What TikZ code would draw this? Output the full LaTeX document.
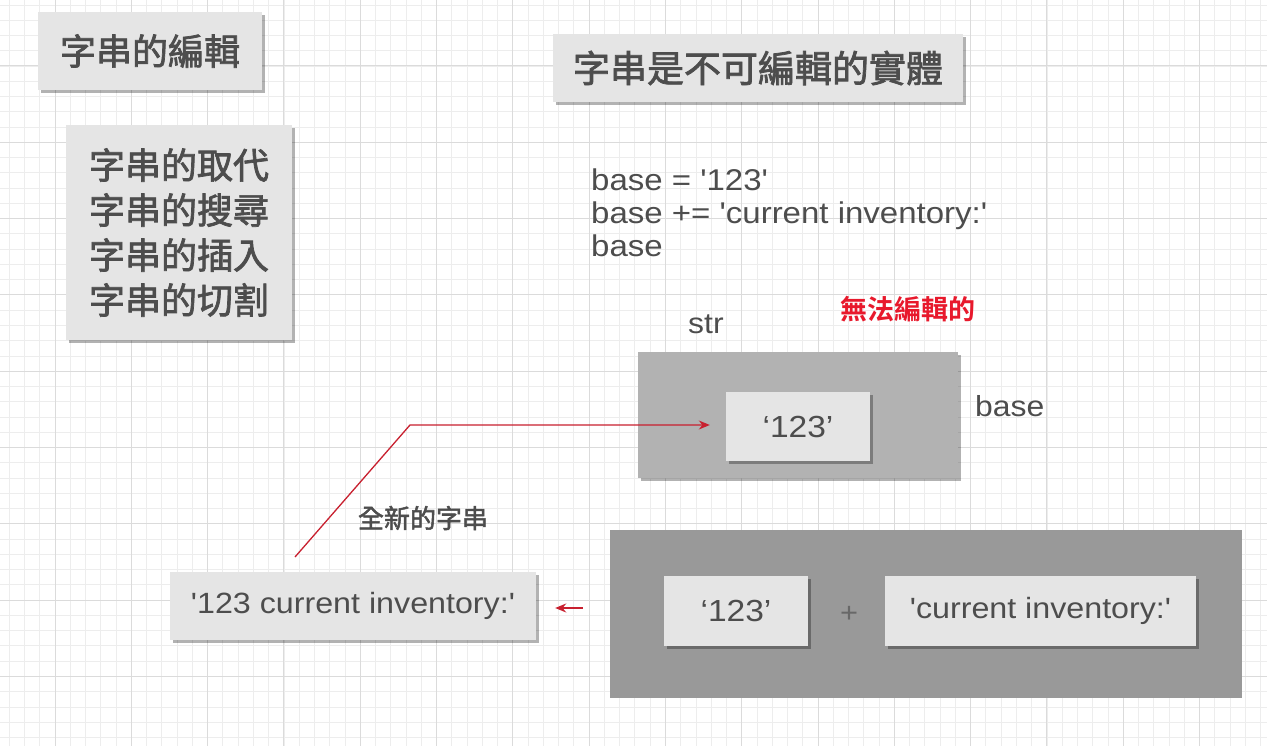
\documentclass[tikz,border=0pt]{standalone}
\usepackage{fontspec}
\setmainfont{Liberation Sans}[Ligatures=TeXOff,FakeStretch=1.1]
\newfontfamily\cjk{Noto Sans CJK TC}[FakeBold=2]
\newfontfamily\cjkbold{Noto Sans CJK TC Bold}
\usetikzlibrary{arrows.meta,shadows}
\definecolor{ink}{HTML}{4D4D4D}
\definecolor{lightbox}{HTML}{E5E5E5}
\definecolor{midbox}{HTML}{B2B2B2}
\definecolor{darkbox}{HTML}{999999}
\definecolor{alert}{HTML}{E8192C}
\definecolor{arrowred}{HTML}{C8202F}
\begin{document}
\begin{tikzpicture}[x=1pt,y=-1pt,
  card/.style={fill=lightbox,text=ink,inner sep=0pt,
    drop shadow={shadow xshift=3pt,shadow yshift=-3pt,fill=black,opacity=0.3}},
  redline/.style={arrowred,line width=1.3pt,-{Stealth[length=11pt,width=9pt]}}]
\useasboundingbox (0,0) rectangle (1267,746);
\fill[white] (0,0) rectangle (1267,746);
% grid
\begin{scope}
\clip (0,0) rectangle (1267,746);
\foreach \i in {-5,...,85} {
  \draw[black!7,line width=0.8pt] ({55+15.26*\i},0) -- ({55+15.26*\i},746);
  \draw[black!7,line width=0.8pt] (0,{66+15.26*\i}) -- (1267,{66+15.26*\i});
}
\foreach \i in {-1,...,17} {
  \draw[black!14,line width=1pt] ({55+76.3*\i},0) -- ({55+76.3*\i},746);
  \draw[black!14,line width=1pt] (0,{66+76.3*\i}) -- (1267,{66+76.3*\i});
}
\end{scope}
% left column
\node[card,minimum width=224pt,minimum height=78pt,font=\cjk\fontsize{36}{36}\selectfont]
  (edit) at (150,51) {字串的編輯};
\node[card,minimum width=226pt,minimum height=215pt,align=center,
  font=\cjk\fontsize{36}{45}\selectfont]
  (ops) at (179,232.5) {字串的取代\\字串的搜尋\\字串的插入\\字串的切割};
% right column
\node[card,minimum width=410pt,minimum height=68pt,font=\cjk\fontsize{37}{37}\selectfont]
  (title) at (758,68) {字串是不可編輯的實體};
\node[anchor=north west,inner sep=0pt,align=left,text=ink,font=\fontsize{30}{33}\selectfont]
  (code) at (591,169) {base = '123'\\base += 'current inventory:'\\base};
\node[anchor=base west,inner sep=0pt,text=ink,font=\fontsize{29}{29}\selectfont]
  (strlbl) at (688,333) {str};
\node[text=alert,inner sep=0pt,font=\cjkbold\fontsize{27}{27}\selectfont]
  (fixed) at (907.5,309) {無法編輯的};
\node[card,fill=midbox,minimum width=320pt,minimum height=126pt]
  (strbox) at (798,415) {};
\node[card,minimum width=144pt,minimum height=69pt,font=\fontsize{30.5}{30.5}\selectfont]
  (old) at (798,426.5) {‘123’};
\node[anchor=base west,inner sep=0pt,text=ink,font=\fontsize{29}{29}\selectfont]
  (baselbl) at (975,416) {base};
% concatenation
\node[fill=darkbox,inner sep=0pt,minimum width=632pt,minimum height=168pt]
  (concat) at (926,614) {};
\node[card,minimum width=144pt,minimum height=70pt,font=\fontsize{30.5}{30.5}\selectfont]
  (left) at (736,611) {‘123’};
\node[text=ink!85,inner sep=0pt,font=\fontsize{28}{28}\selectfont]
  (plus) at (849,614) {+};
\node[card,minimum width=311pt,minimum height=70pt,font=\fontsize{29.3}{29.3}\selectfont]
  (right) at (1040.5,611) {'current inventory:'};
\node[card,minimum width=366pt,minimum height=68pt,font=\fontsize{29.3}{29.3}\selectfont]
  (newstr) at (353,606) {'123 current inventory:'};
\node[text=ink,inner sep=0pt,font=\cjk\fontsize{26}{26}\selectfont]
  (newlbl) at (423,518) {全新的字串};
% arrows
\coordinate (tail) at (295,557);
\coordinate (bend) at (410,425);
\draw[redline] (tail) -- (bend) -- ([xshift=-16pt,yshift=1.5pt]old.west);
\draw[redline,line width=1.5pt] ([xshift=-27pt,yshift=6pt]concat.west) -- ([xshift=19pt,yshift=-2pt]newstr.east);
\end{tikzpicture}
\end{document}
